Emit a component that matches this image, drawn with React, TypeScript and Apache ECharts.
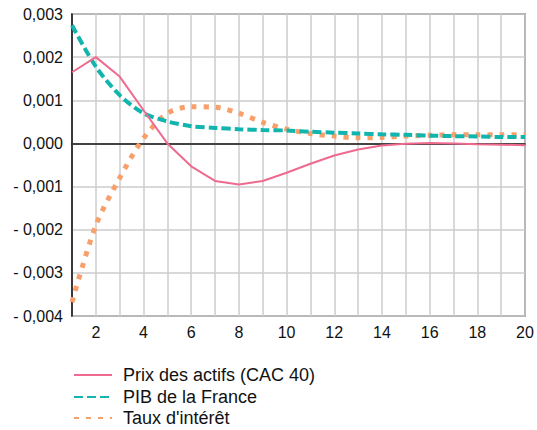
import React, { useEffect, useRef } from "react";
import * as echarts from "echarts";

const periods = [1, 2, 3, 4, 5, 6, 7, 8, 9, 10, 11, 12, 13, 14, 15, 16, 17, 18, 19, 20];
const prixActifs = [0.00165, 0.002, 0.00155, 0.00077, 0.0, -0.00053, -0.00087, -0.00095, -0.00087, -0.00068, -0.00047, -0.00028, -0.00014, -0.00005, -0.00001, 0.00001, 0.0, -0.00002, -0.00003, -0.00004];
const pibFrance = [0.00274, 0.00178, 0.00112, 0.0007, 0.00051, 0.0004, 0.00036, 0.00033, 0.00031, 0.0003, 0.00027, 0.00025, 0.00023, 0.00021, 0.0002, 0.00018, 0.00017, 0.00016, 0.00015, 0.00015];
const tauxInteret = [-0.00368, -0.0019, -0.0008, 0.00012, 0.0007, 0.00085, 0.00084, 0.0007, 0.00049, 0.00033, 0.00023, 0.00017, 0.00013, 0.00014, 0.00017, 0.00019, 0.0002, 0.0002, 0.0002, 0.0002];
const seriesNames = ["Prix des actifs (CAC 40)", "PIB de la France", "Taux d'intérêt"];

const FONT = "'Liberation Sans', Arial, Helvetica, sans-serif";

const fmtY = (v: number) => {
  const s = Math.abs(v).toFixed(3).replace(".", ",");
  return v < -1e-9 ? "- " + s : s;
};

export default function App() {
  const ref = useRef<HTMLDivElement>(null);
  useEffect(() => {
    if (!ref.current) return;
    const chart = echarts.init(ref.current, undefined, { renderer: "svg" });
    const pair = (arr: number[]) => periods.map((p, i) => [p, arr[i]]);
    const legendTops = [366, 388, 409];
    chart.setOption({
      animation: false,
      textStyle: { fontFamily: FONT },
      grid: {
        left: 72,
        right: 12,
        top: 14,
        height: 302,
        show: true,
        borderColor: "#555",
        borderWidth: 1.5,
        backgroundColor: "transparent",
      },
      xAxis: {
        type: "value",
        min: 1,
        max: 20,
        interval: 1,
        axisLine: { show: true, lineStyle: { color: "#111", width: 1.5 } },
        axisTick: { show: false },
        splitLine: { show: true, lineStyle: { color: "#cccccc", width: 1.5 } },
        axisLabel: {
          margin: 8,
          fontSize: 16,
          color: "#111",
          fontFamily: FONT,
          formatter: (v: number) => (v % 2 === 0 ? String(v) : ""),
        },
      },
      yAxis: {
        type: "value",
        min: -0.004,
        max: 0.003,
        interval: 0.001,
        axisLine: { show: true, lineStyle: { color: "#111", width: 1.5 } },
        axisTick: { show: false },
        splitLine: { show: true, lineStyle: { color: "#cccccc", width: 1.5 } },
        axisLabel: {
          margin: 9,
          fontSize: 16,
          color: "#111",
          fontFamily: FONT,
          formatter: fmtY,
        },
      },
      legend: seriesNames.map((name, i) => ({
        orient: "vertical",
        left: 73,
        top: legendTops[i],
        padding: 0,
        itemWidth: 38,
        itemHeight: 16,
        itemStyle: { opacity: 0 },
        textStyle: { fontSize: 18, color: "#111", fontFamily: FONT, padding: [0, 0, 0, 6] },
        data: [name],
      })),
      series: [
        {
          name: seriesNames[0],
          type: "line",
          data: pair(prixActifs),
          symbol: "none",
          lineStyle: { color: "#ee6a8e", width: 2 },
          itemStyle: { color: "#ee6a8e" },
          z: 4,
          markLine: {
            silent: true,
            symbol: "none",
            label: { show: false },
            lineStyle: { color: "#444", width: 1.5, type: "solid" },
            data: [{ yAxis: 0 }],
            z: 1,
          },
        },
        {
          name: seriesNames[1],
          type: "line",
          data: pair(pibFrance),
          symbol: "none",
          smooth: 0.3,
          lineStyle: { color: "#12b5ad", width: 4, type: [9, 4] },
          itemStyle: { color: "#12b5ad" },
          z: 3,
        },
        {
          name: seriesNames[2],
          type: "line",
          data: pair(tauxInteret),
          symbol: "none",
          smooth: 0.3,
          lineStyle: { color: "#f7a06b", width: 5, type: [5, 7] },
          itemStyle: { color: "#f7a06b" },
          z: 2,
        },
      ],
    });
    return () => chart.dispose();
  }, []);
  return (
    <div
      ref={ref}
      style={{ position: "fixed", left: 0, top: 0, width: 537, height: 430, background: "#fff" }}
    />
  );
}
